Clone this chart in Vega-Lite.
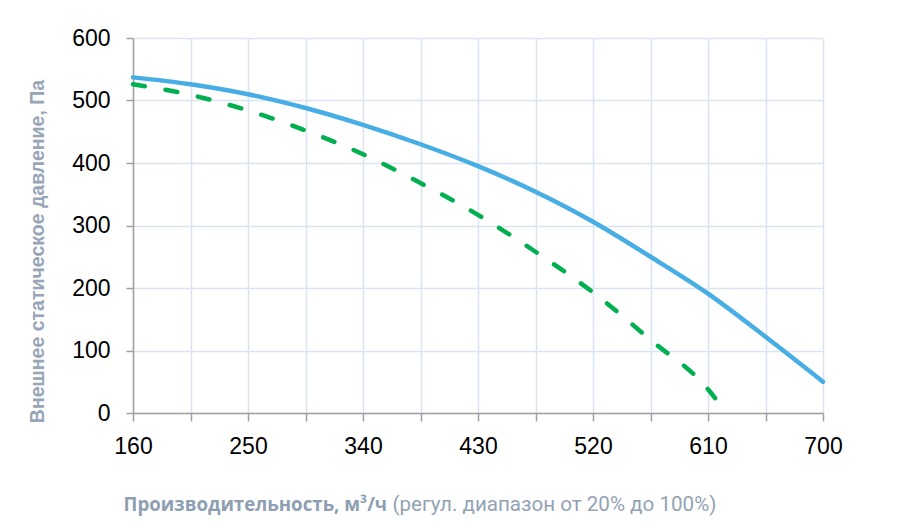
{
  "$schema": "https://vega.github.io/schema/vega-lite/v6.json",
  "description": "Fan curve: external static pressure vs airflow",
  "width": 690,
  "height": 375,
  "autosize": {"type": "none"},
  "padding": {"left": 133, "top": 38, "right": 89, "bottom": 113},
  "background": "white",
  "datasets": {
    "curves": [
      {"flow": 160, "pa": 537, "series": "max"},
      {"flow": 205, "pa": 526, "series": "max"},
      {"flow": 250, "pa": 510, "series": "max"},
      {"flow": 295, "pa": 488, "series": "max"},
      {"flow": 340, "pa": 461, "series": "max"},
      {"flow": 385, "pa": 430, "series": "max"},
      {"flow": 430, "pa": 395, "series": "max"},
      {"flow": 475, "pa": 354, "series": "max"},
      {"flow": 520, "pa": 306, "series": "max"},
      {"flow": 565, "pa": 250, "series": "max"},
      {"flow": 610, "pa": 191, "series": "max"},
      {"flow": 655, "pa": 122, "series": "max"},
      {"flow": 700, "pa": 50, "series": "max"},
      {"flow": 160, "pa": 526, "series": "min"},
      {"flow": 205, "pa": 509, "series": "min"},
      {"flow": 250, "pa": 484, "series": "min"},
      {"flow": 295, "pa": 452, "series": "min"},
      {"flow": 340, "pa": 414, "series": "min"},
      {"flow": 385, "pa": 368, "series": "min"},
      {"flow": 430, "pa": 317, "series": "min"},
      {"flow": 475, "pa": 258, "series": "min"},
      {"flow": 520, "pa": 193, "series": "min"},
      {"flow": 565, "pa": 117, "series": "min"},
      {"flow": 610, "pa": 38, "series": "min"},
      {"flow": 620, "pa": 12, "series": "min"}
    ]
  },
  "data": {"name": "curves"},
  "config": {
    "view": {"stroke": null},
    "axis": {
      "labelFont": "Liberation Sans",
      "labelFontSize": 23,
      "labelColor": "#000000",
      "gridColor": "#d9e3f2",
      "gridWidth": 1.5,
      "domainColor": "#a0a0a0",
      "domainWidth": 1.5,
      "tickColor": "#a0a0a0",
      "tickWidth": 1.5
    }
  },
  "encoding": {
    "x": {
      "field": "flow",
      "type": "quantitative",
      "scale": {"domain": [160, 700], "nice": false, "zero": false}
    },
    "y": {
      "field": "pa",
      "type": "quantitative",
      "scale": {"domain": [0, 600], "nice": false},
      "axis": {
        "values": [0, 100, 200, 300, 400, 500, 600],
        "tickSize": 7,
        "labelPadding": 16,
        "title": "Внешнее статическое давление, Па",
        "titleFont": "Liberation Sans",
        "titleFontSize": 19.5,
        "titleFontWeight": "bold",
        "titleColor": "#97a6b7",
        "titleX": -96,
        "titleY": 213,
        "titleAlign": "center",
        "titleBaseline": "middle"
      }
    }
  },
  "layer": [
    {
      "transform": [{"filter": "datum.series == 'max'"}],
      "mark": {"type": "line", "color": "#47ade5", "strokeWidth": 4.5, "interpolate": "monotone", "strokeCap": "round"},
      "encoding": {
        "x": {
          "field": "flow",
          "type": "quantitative",
          "axis": {
            "orient": "bottom",
            "values": [160, 205, 250, 295, 340, 385, 430, 475, 520, 565, 610, 655, 700],
            "labelExpr": "(datum.value - 160) % 90 == 0 ? datum.label : ''",
            "labelFlush": false,
            "tickSize": 8,
            "labelPadding": 14,
            "title": "Производительность, м³/ч",
            "titleFont": "Open Sans",
            "titleFontSize": 18.7,
            "titleFontWeight": "bold",
            "titleColor": "#8e9fb3",
            "titleX": -10,
            "titleY": 97,
            "titleAlign": "left",
            "titleBaseline": "alphabetic"
          }
        }
      }
    },
    {
      "transform": [{"filter": "datum.series == 'min'"}],
      "mark": {"type": "line", "color": "#00b050", "strokeWidth": 4.5, "interpolate": "monotone", "strokeDash": [12, 21], "strokeCap": "round"},
      "encoding": {
        "x": {
          "field": "flow",
          "type": "quantitative",
          "axis": {
            "orient": "top",
            "domain": false,
            "ticks": false,
            "labels": false,
            "grid": false,
            "title": "(регул. диапазон от 20% до 100%)",
            "titleFont": "Roboto",
            "titleFontSize": 20.6,
            "titleFontWeight": "normal",
            "titleColor": "#93a3b5",
            "titleX": 259,
            "titleY": 472,
            "titleAlign": "left",
            "titleBaseline": "alphabetic"
          }
        }
      }
    }
  ],
  "resolve": {"axis": {"x": "independent"}}
}
